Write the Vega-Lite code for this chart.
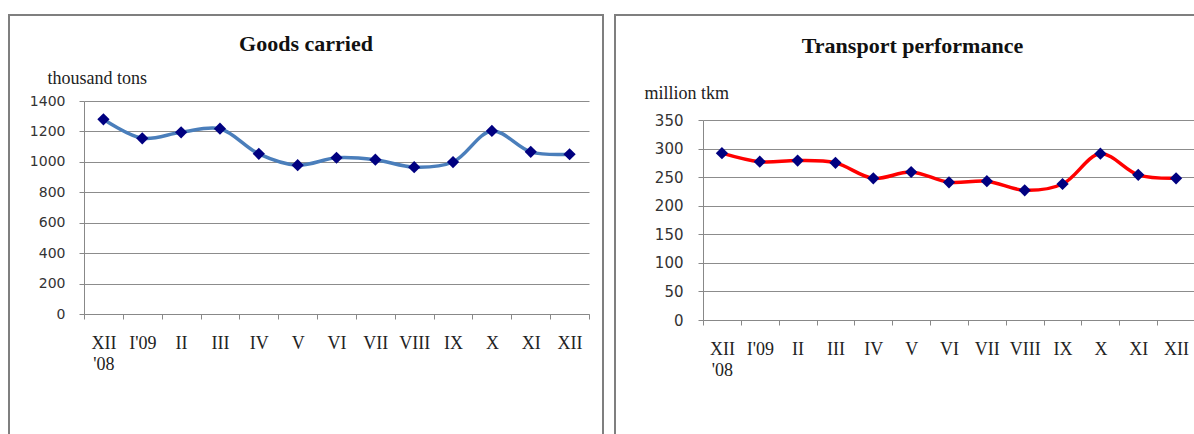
{
  "$schema": "https://vega.github.io/schema/vega-lite/v6.json",
  "background": "white",
  "padding": {"left": 8, "top": 14, "right": 0, "bottom": 0},
  "spacing": 10,
  "datasets": {
    "rail": [
      {"month": "XII '08", "goods": 1280, "tkm": 292},
      {"month": "I'09", "goods": 1155, "tkm": 277},
      {"month": "II", "goods": 1194, "tkm": 279},
      {"month": "III", "goods": 1218, "tkm": 275},
      {"month": "IV", "goods": 1053, "tkm": 248},
      {"month": "V", "goods": 978, "tkm": 259},
      {"month": "VI", "goods": 1027, "tkm": 241},
      {"month": "VII", "goods": 1014, "tkm": 243},
      {"month": "VIII", "goods": 965, "tkm": 227},
      {"month": "IX", "goods": 999, "tkm": 238},
      {"month": "X", "goods": 1203, "tkm": 291},
      {"month": "XI", "goods": 1066, "tkm": 254},
      {"month": "XII", "goods": 1050, "tkm": 248}
    ]
  },
  "data": {"name": "rail"},
  "config": {
    "view": {"stroke": "#7f7f7f", "strokeWidth": 2, "fill": "white"},
    "axis": {
      "domainColor": "#888888",
      "tickColor": "#888888",
      "gridColor": "#8c8c8c",
      "gridOpacity": 1,
      "domainWidth": 1,
      "tickWidth": 1
    }
  },
  "hconcat": [
    {
      "width": 594,
      "height": 420,
      "title": {"text": "Goods carried", "font": "Liberation Serif", "fontSize": 22, "fontWeight": "bold", "color": "#111111", "anchor": "middle", "baseline": "alphabetic", "offset": -58},
      "encoding": {
        "x": {
          "field": "month", "type": "nominal", "sort": null,
          "scale": {"type": "band", "range": [75, 580], "paddingInner": 0, "paddingOuter": 0},
          "axis": {"title": null, "labelAngle": 0, "labelExpr": "split(datum.label, ' ')", "offset": -121, "tickBand": "extent", "tickSize": 5, "labelFont": "Liberation Serif", "labelFontSize": 18, "labelLineHeight": 21, "labelColor": "#222222", "labelPadding": 15, "grid": false}
        },
        "y": {
          "field": "goods", "type": "quantitative",
          "scale": {"domain": [0, 1400], "range": [299, 86], "nice": false},
          "axis": {"values": [0, 200, 400, 600, 800, 1000, 1200, 1400], "format": "d", "offset": -75, "grid": true, "tickSize": 5, "labelFont": "DejaVu Sans", "labelFontSize": 14, "labelColor": "#333333", "labelPadding": 14,
            "title": "thousand tons", "titleAngle": 0, "titleX": -37, "titleY": 68, "titleAlign": "left", "titleBaseline": "alphabetic", "titleFont": "Liberation Serif", "titleFontSize": 18, "titleFontWeight": "normal", "titleColor": "#222222"}
        }
      },
      "layer": [
        {"mark": {"type": "line", "interpolate": "catmull-rom", "color": "#4A7EBB", "strokeWidth": 3.5}},
        {"mark": {"type": "point", "shape": "diamond", "filled": true, "color": "#000080", "size": 150, "opacity": 1}}
      ]
    },
    {
      "width": 581,
      "height": 420,
      "title": {"text": "Transport performance", "font": "Liberation Serif", "fontSize": 22, "fontWeight": "bold", "color": "#111111", "anchor": "middle", "baseline": "alphabetic", "offset": -60, "dx": 7},
      "encoding": {
        "x": {
          "field": "month", "type": "nominal", "sort": null,
          "scale": {"type": "band", "range": [88, 580], "paddingInner": 0, "paddingOuter": 0},
          "axis": {"title": null, "labelAngle": 0, "labelExpr": "split(datum.label, ' ')", "offset": -115, "tickBand": "extent", "tickSize": 5, "labelFont": "Liberation Serif", "labelFontSize": 18, "labelLineHeight": 21, "labelColor": "#222222", "labelPadding": 15, "grid": false}
        },
        "y": {
          "field": "tkm", "type": "quantitative",
          "scale": {"domain": [0, 350], "range": [305, 105], "nice": false},
          "axis": {"values": [0, 50, 100, 150, 200, 250, 300, 350], "format": "d", "offset": -88, "grid": true, "tickSize": 5, "labelFont": "DejaVu Sans", "labelFontSize": 15, "labelColor": "#333333", "labelPadding": 15,
            "title": "million tkm", "titleAngle": 0, "titleX": -59, "titleY": 83, "titleAlign": "left", "titleBaseline": "alphabetic", "titleFont": "Liberation Serif", "titleFontSize": 18, "titleFontWeight": "normal", "titleColor": "#222222"}
        }
      },
      "layer": [
        {"mark": {"type": "line", "interpolate": "catmull-rom", "color": "#FF0000", "strokeWidth": 3.5}},
        {"mark": {"type": "point", "shape": "diamond", "filled": true, "color": "#000080", "size": 150, "opacity": 1}}
      ]
    }
  ]
}
